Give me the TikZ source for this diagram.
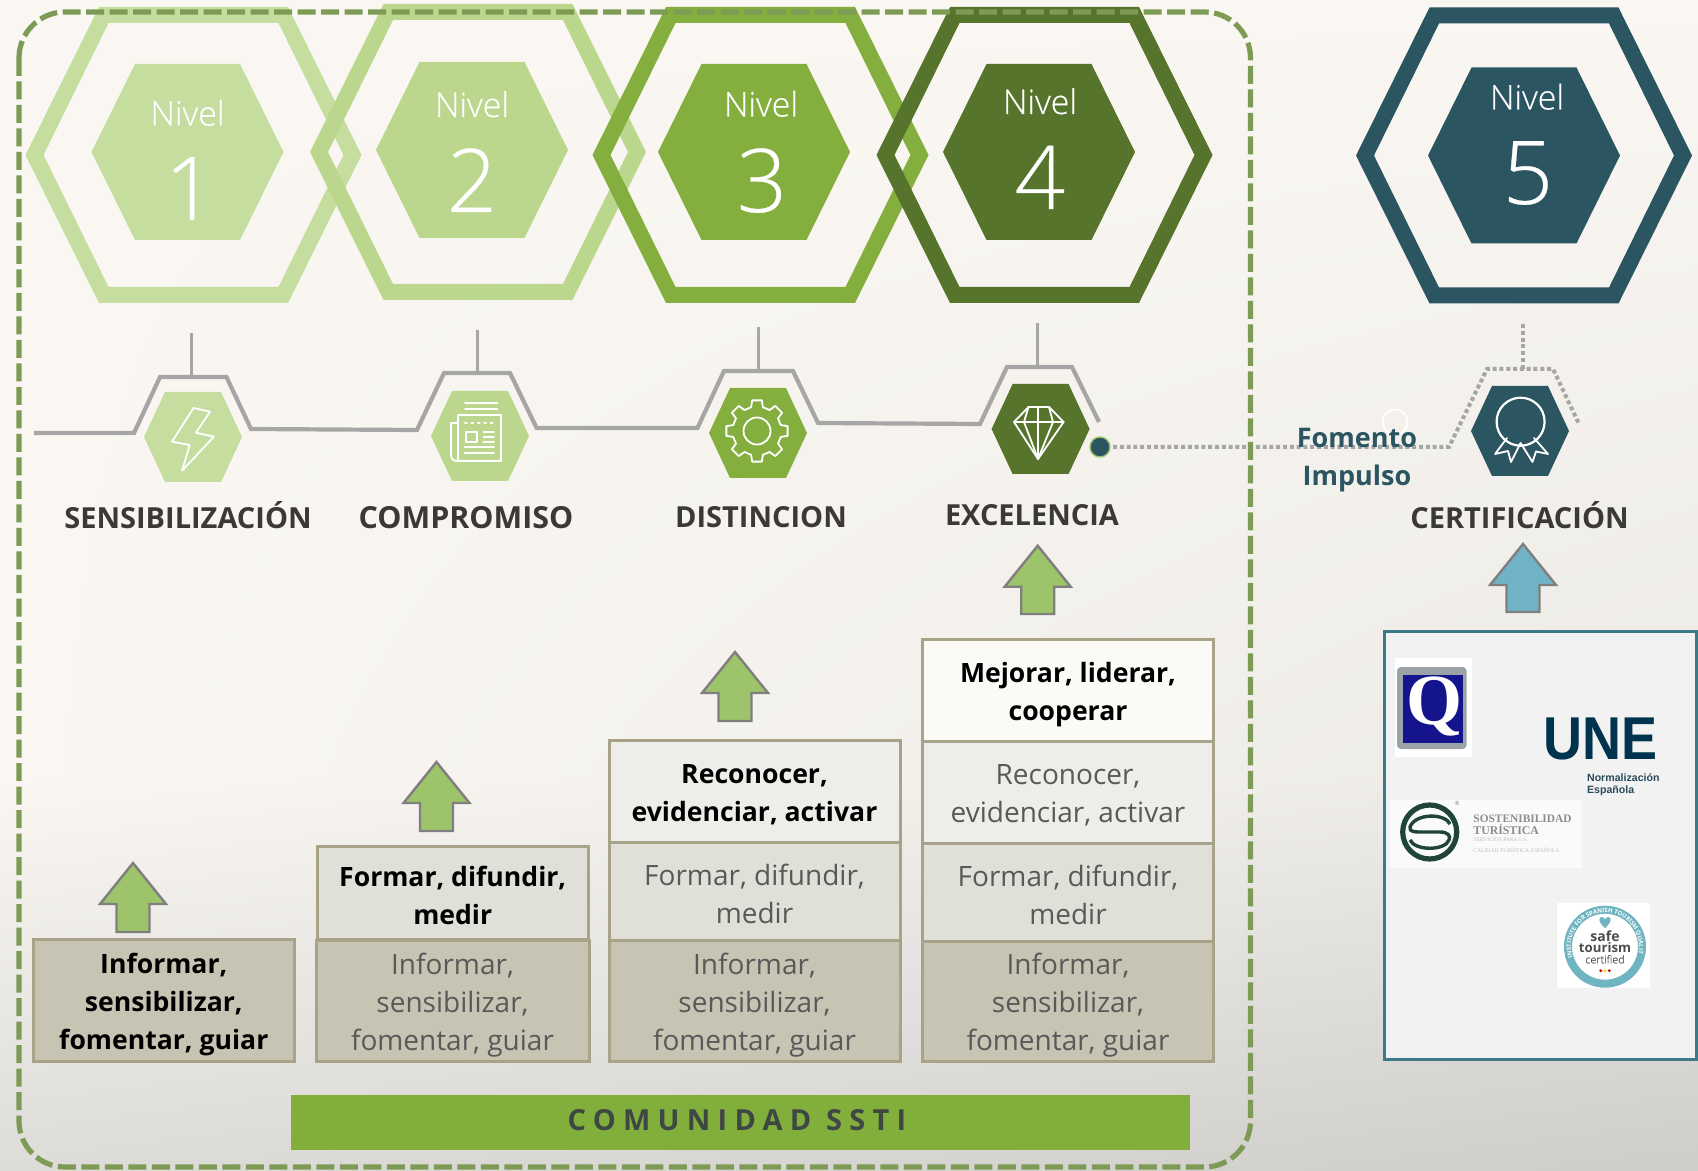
\documentclass[tikz,border=0pt]{standalone}
\usepackage{fontspec}
\usepackage{graphicx}
\usetikzlibrary{decorations.text,shadings}
\setmainfont{Open Sans}
\newfontfamily\lightf[FakeBold=0.35]{Open Sans Light}
\newfontfamily\barf[LetterSpace=25]{Open Sans}
\newfontfamily\arialf{Liberation Sans}
\newfontfamily\timesf{Liberation Serif}
\definecolor{bgA}{HTML}{FAF7F2}
\definecolor{bgM}{HTML}{ECEAE6}
\definecolor{bgB}{HTML}{DDDCD8}
\definecolor{bgC}{HTML}{CECDCA}
\definecolor{hA}{HTML}{C5DD9E}
\definecolor{hB}{HTML}{BBD68D}
\definecolor{hC}{HTML}{84AF3E}
\definecolor{hD}{HTML}{57742C}
\definecolor{hE}{HTML}{2A5561}
\definecolor{dashG}{HTML}{7D9B55}
\definecolor{lineG}{HTML}{A6A6A6}
\definecolor{labelC}{HTML}{3B3838}
\definecolor{lvA}{HTML}{C7C4B4}
\definecolor{lvB}{HTML}{E0DFD8}
\definecolor{lvC}{HTML}{EDEDE9}
\definecolor{lvD}{HTML}{FBFAF7}
\definecolor{bxB}{HTML}{A8A388}
\definecolor{txtG}{HTML}{595959}
\definecolor{barG}{HTML}{82AE3C}
\definecolor{barT}{HTML}{3F4744}
\definecolor{arG}{HTML}{9DC46A}
\definecolor{arB}{HTML}{71B3C6}
\definecolor{arL}{HTML}{7F7F7F}
\definecolor{certB}{HTML}{3C7A8A}
\definecolor{certF}{HTML}{F2F2F2}
\definecolor{qBlue}{HTML}{14148C}
\definecolor{qGrey}{HTML}{9CA3A6}
\definecolor{uneC}{HTML}{00334E}
\definecolor{uneT}{HTML}{2A4A5C}
\definecolor{sGreen}{HTML}{1F4438}
\definecolor{safeT}{HTML}{6FB5C1}
\definecolor{safeD}{HTML}{4D4D4D}
\newcommand{\tup}{\rule{0pt}{15pt}}
\newcommand{\tum}{\rule{0pt}{13.5pt}}
\tikzset{
  bx/.style={draw=bxB,line width=1.5pt,inner sep=0pt,align=center,text=txtG,font=\fontsize{14}{19}\selectfont},
  bxbold/.style={bx,text=black,font=\fontsize{13.3}{19}\selectfont\bfseries},
  lab/.style={inner sep=0pt,anchor=base,text=labelC,font=\fontsize{14.5}{16}\selectfont\bfseries},
  fom/.style={inner sep=0pt,anchor=base,text=hE,font=\fontsize{13.5}{15}\selectfont\bfseries},
  niv/.style={inner sep=0pt,anchor=base,text=white,font=\lightf\fontsize{17}{20}\selectfont},
  dig/.style={inner sep=0pt,anchor=base,text=white,font=\lightf\fontsize{44}{48}\selectfont},
  greyl/.style={draw=lineG,line width=2.1pt,line join=miter},
  stem/.style={draw=lineG,line width=1.5pt},
  dotl/.style={draw=lineG,line width=2pt,dash pattern=on 2pt off 1.4pt},
  icon/.style={draw=white,line width=0.9pt,line join=round,line cap=round},
}
\newcommand{\ringhex}[3]{%
  \fill[#3,even odd rule]
   ({#1-168},{#2}) -- ({#1-94.5},{#2-148}) -- ({#1+94.5},{#2-148}) -- ({#1+168},{#2}) -- ({#1+94.5},{#2+148}) -- ({#1-94.5},{#2+148}) -- cycle
   ({#1-150},{#2}) -- ({#1-85},{#2-132}) -- ({#1+85},{#2-132}) -- ({#1+150},{#2}) -- ({#1+85},{#2+132}) -- ({#1-85},{#2+132}) -- cycle;}
\newcommand{\solidhex}[3]{%
  \fill[#3] ({#1-96},{#2}) -- ({#1-52.5},{#2-88}) -- ({#1+52.5},{#2-88}) -- ({#1+96},{#2}) -- ({#1+52.5},{#2+88}) -- ({#1-52.5},{#2+88}) -- cycle;}
\newcommand{\smallhex}[3]{%
  \fill[#3] ({#1-49},{#2}) -- ({#1-28},{#2-45}) -- ({#1+28},{#2-45}) -- ({#1+49},{#2}) -- ({#1+28},{#2+45}) -- ({#1-28},{#2+45}) -- cycle;}
\newcommand{\uparr}[4]{%
  \filldraw[fill=#4,draw=arL,line width=1.2pt,line join=miter]
   ({#1},{#2}) -- ({#1+33},{#2+41}) -- ({#1+16.5},{#2+41}) -- ({#1+16.5},{#3}) -- ({#1-16.5},{#3}) -- ({#1-16.5},{#2+41}) -- ({#1-33},{#2+41}) -- cycle;}
\begin{document}
\begin{tikzpicture}[x=0.5pt,y=-0.5pt]
\useasboundingbox (0,0) rectangle (1698,1171);
% background
\shade[upper left=bgA,upper right=bgA,lower left=bgA,lower right=bgM] (0,0) rectangle (1698,780);
\shade[upper left=bgA,upper right=bgM,lower left=bgB,lower right=bgC] (0,780) rectangle (1698,1171);

% rings
\ringhex{193.5}{155}{hA}
\ringhex{478}{152}{hB}
\ringhex{760.5}{155}{hC}
\ringhex{1044.5}{155}{hD}
\ringhex{1524}{155.5}{hE}
\solidhex{187.5}{152}{hA}
\solidhex{472}{150}{hB}
\solidhex{754}{152}{hC}
\solidhex{1039}{152}{hD}
\solidhex{1524}{155.5}{hE}

% nivel texts
\node[niv] (n1) at (187.5,125.5) {Nivel};
\node[dig] (d1) at (190,220) {1};
\node[niv] (n2) at (472,117) {Nivel};
\node[dig] (d2) at (472,212) {2};
\node[niv] (n3) at (761,116.5) {Nivel};
\node[dig] (d3) at (762,212) {3};
\node[niv] (n4) at (1040,114) {Nivel};
\node[dig] (d4) at (1040,209) {4};
\node[niv] (n5) at (1527,109.5) {Nivel};
\node[dig] (d5) at (1528,204) {5};

% grey line
\draw[greyl] (34,433) -- (134,433) -- (160,377) -- (226.5,377) -- (251,429) -- (417,430) -- (444,373) -- (510,373) -- (536.6,428) -- (697.5,428) -- (724,371) -- (793,371) -- (818,423) -- (980,424) -- (1007,367) -- (1072,367) -- (1099,422);
\coordinate (sa1) at (191,333); \coordinate (sb1) at (191,377);
\coordinate (sa2) at (477.5,330); \coordinate (sb2) at (477.5,373);
\coordinate (sa3) at (758,327); \coordinate (sb3) at (758,371);
\coordinate (sa4) at (1037.7,323); \coordinate (sb4) at (1037.7,367);
\coordinate (sa5) at (1523,324); \coordinate (sb5) at (1523,369);
\draw[stem] (sa1) -- (sb1);
\draw[stem] (sa2) -- (sb2);
\draw[stem] (sa3) -- (sb3);
\draw[stem] (sa4) -- (sb4);

% dotted parts
\node[circle,fill=hE,draw=arG,line width=0.7pt,minimum size=10pt,inner sep=0pt,outer sep=1.5pt] (dot) at (1100,447) {};
\coordinate (p1) at (1449,447);
\coordinate (p2) at (1487,369);
\coordinate (p3) at (1553,369);
\coordinate (p4) at (1578.5,423);
\draw[dotl] (dot.east) -- (p1) -- (p2) -- (p3) -- (p4);
\draw[dotl] (sa5) -- (sb5);

% small hexes
\smallhex{193}{437}{hA}
\smallhex{480}{436}{hB}
\smallhex{758}{433}{hC}
\smallhex{1040.6}{429}{hD}
\smallhex{1520}{431}{hE}

% lightning
\draw[icon] (193.5,408) -- (210,411.7) -- (196,432.7) -- (214,436.7) -- (182,470.7) -- (189.7,445) -- (172,441.7) -- cycle;
% newspaper
\draw[icon] (465,403) -- (497.5,403) (465,409) -- (497.5,409);
\draw[icon] (458,461) -- (458,415) -- (501,415) -- (501,461) -- (458,461) .. controls (453,461) and (451,459) .. (451,455) -- (451,423) -- (458,423);
\draw[icon] (466,432) rectangle (477,442);
\draw[icon] (483.5,432) -- (494,432) (483.5,437) -- (494,437) (483.5,442) -- (494,442);
\draw[icon] (464.5,447) -- (494,447) (464.5,453) -- (494,453);
\draw[icon,dash pattern=on 1pt off 2.2pt] (465,423) -- (494,423);
% gear
\begin{scope}[shift={(757,431)}]
\draw[icon] (-9:31) foreach \a in {0,45,...,315} { -- (\a-9:31) -- (\a+9:31) -- (\a+14:24.5) -- (\a+31:24.5) } -- cycle;
\draw[icon] (0,0) circle[radius=13.5];
\end{scope}
% diamond
\draw[icon] (1028.5,407) -- (1049,407) -- (1063.6,422) -- (1038,459) -- (1014,422) -- cycle;
\draw[icon] (1014,422) -- (1063.6,422);
\draw[icon] (1028.5,407) -- (1024,422) -- (1038,459) -- (1053,422) -- (1049,407);
\draw[icon] (1038,407) -- (1038,459);
% award
\draw[icon,line width=1.1pt] (1520.6,421.7) circle[radius=24];
\draw[icon] (1507,438) -- (1495,454) -- (1508,451) -- (1511,462) -- (1520.6,443) -- (1532.5,462) -- (1536,451.5) -- (1548,454) -- (1534,438);

% white circle
\draw[white,line width=0.9pt] (1395,422) circle[radius=12.5];

% dashed frame
\draw[dashG,line width=2.6pt,rounded corners=23pt,dash pattern=on 9pt off 2.75pt] (19,12) rectangle (1250.5,1167);

% labels
\node[lab] (l1) at (188,528.5) {SENSIBILIZACIÓN};
\node[lab,font=\fontsize{15.2}{16}\selectfont\bfseries] (l2) at (466,529) {COMPROMISO};
\node[lab] (l3) at (761,527.5) {DISTINCION};
\node[lab] (l4) at (1032,525.5) {EXCELENCIA};
\node[lab] (l5) at (1519.5,529) {CERTIFICACIÓN};
\node[fom] (f1) at (1357,448) {Fomento};
\node[fom] (f2) at (1357,486) {Impulso};

% arrows
\uparr{133}{863}{932}{arG}
\uparr{436.5}{762}{831}{arG}
\uparr{735}{652}{721}{arG}
\uparr{1037.7}{545.7}{614}{arG}
\uparr{1523}{544}{612}{arB}

% boxes
\node[bxbold,fill=lvA,minimum width=130.8pt,minimum height=61pt] (a1) at (163.8,1000) {\tup Informar,\\sensibilizar,\\fomentar, guiar};
\node[bx,fill=lvA,minimum width=136.5pt,minimum height=60.5pt] (a2) at (452.5,1001) {\tup Informar,\\sensibilizar,\\fomentar, guiar};
\node[bxbold,fill=lvB,minimum width=135.3pt,minimum height=46.5pt] (b2) at (452.7,892.5) {\tum Formar, difundir,\\medir};
\node[bx,fill=lvA,minimum width=145.5pt,minimum height=60.5pt] (a3) at (754.5,1000.5) {\tup Informar,\\sensibilizar,\\fomentar, guiar};
\node[bx,fill=lvB,minimum width=145.5pt,minimum height=49pt] (b3) at (754.5,891) {\tum Formar, difundir,\\medir};
\node[bxbold,fill=lvC,minimum width=145.5pt,minimum height=51pt] (c3) at (754.5,791) {\tum Reconocer,\\evidenciar, activar};
\node[bx,fill=lvA,minimum width=145.5pt,minimum height=60.5pt] (a4) at (1068,1001) {\tup Informar,\\sensibilizar,\\fomentar, guiar};
\node[bx,fill=lvB,minimum width=145.5pt,minimum height=49pt] (b4) at (1068,892) {\tum Formar, difundir,\\medir};
\node[bx,fill=lvC,minimum width=145.5pt,minimum height=51pt] (c4) at (1068,792) {\tum Reconocer,\\evidenciar, activar};
\node[bxbold,fill=lvD,minimum width=145.5pt,minimum height=51pt] (e4) at (1068,690) {\tup Mejorar, liderar,\\cooperar};

% bar
\node[fill=barG,inner sep=0pt,minimum width=449.5pt,minimum height=27.5pt] (bar) at (740.5,1122.5) {};
\node[inner sep=0pt,text=barT,font=\barf\fontsize{14.5}{16}\selectfont\bfseries] (bart) at (737,1120.5) {COMUNIDAD SSTI};

% certification panel
\draw[fill=certF,draw=certB,line width=1.5pt] (1384.7,631.7) rectangle (1696,1059);
% Q logo
\fill[white] (1395,657.7) rectangle (1471.7,756.7);
\fill[qGrey,rounded corners=2pt] (1397,667) rectangle (1466.7,749);
\fill[qBlue] (1403,675) rectangle (1463,743);
\node[inner sep=0pt,text=white,font=\timesf\fontsize{36}{38}\selectfont\bfseries] (qlogo) at (1434,706) {Q};
% UNE logo
\node[inner sep=0pt,anchor=base,text=uneC,font=\arialf\fontsize{27}{28}\selectfont\bfseries] (une) at (1600.5,759) {\scalebox{1}[1.12]{UNE}};
\node[inner sep=0pt,anchor=base west,text=uneT,font=\arialf\fontsize{5.3}{6}\selectfont\bfseries] (une1) at (1586.7,781) {Normalización};
\node[inner sep=0pt,anchor=base west,text=uneT,font=\arialf\fontsize{5.3}{6}\selectfont\bfseries] (une2) at (1586.7,793) {Española};
% S logo
\fill[white!60!certF] (1390,800) rectangle (1581.7,867.7);
\draw[sGreen,line width=2.6pt] (1429.7,832) circle[radius=27];
\draw[sGreen,line width=1.7pt] (1450,824) .. controls (1445,813) and (1415,813) .. (1410,827) .. controls (1409,832) and (1415,832) .. (1420,832) -- (1440,832) .. controls (1448,832) and (1451,836) .. (1449,840) .. controls (1445,851) and (1415,851) .. (1410,840);
\node[inner sep=0pt,text=gray,font=\arialf\fontsize{3}{3}\selectfont] (sr) at (1457,803) {®};
\node[inner sep=0pt,anchor=base west,text=black!45,font=\timesf\fontsize{5.7}{6}\selectfont\bfseries] (s1) at (1473,822) {SOSTENIBILIDAD};
\node[inner sep=0pt,anchor=base west,text=black!45,font=\timesf\fontsize{5.9}{6}\selectfont\bfseries] (s2) at (1473,834) {TURÍSTICA};
\node[inner sep=0pt,anchor=base west,text=black!25,font=\timesf\fontsize{2.8}{3}\selectfont] (s3) at (1473,841.5) {SERVICIOS PARA LA};
\node[inner sep=0pt,anchor=base west,text=black!25,font=\timesf\fontsize{2.8}{3}\selectfont] (s4) at (1473,852) {CALIDAD TURÍSTICA ESPAÑOLA};
% safe tourism logo
\fill[white] (1556.7,903.3) rectangle (1650,988.3);
\draw[safeT,line width=4pt] (1605,946.7) circle[radius=37];
\path[postaction={decorate,decoration={text along path,text align=center,text={|\fontsize{3}{3}\selectfont\color{white}\bfseries|INSTITUTE FOR SPANISH TOURISM QUALITY}}}] (1571.5,952.6) arc[start angle=170,end angle=370,radius=34];
\fill[safeT] (1605,928) .. controls (1597,921) and (1599,917) .. (1602,917) .. controls (1604,917) and (1605,919) .. (1605,920) .. controls (1605,919) and (1606,917) .. (1608,917) .. controls (1611,917) and (1613,921) .. (1605,928) -- cycle;
\node[inner sep=0pt,text=safeD,font=\fontsize{7}{8}\selectfont\bfseries] (st1) at (1605,936) {safe};
\node[inner sep=0pt,text=safeD,font=\fontsize{6.6}{8}\selectfont\bfseries] (st2) at (1605,947.3) {tourism};
\node[inner sep=0pt,text=safeD,font=\lightf\fontsize{5.4}{6}\selectfont] (st3) at (1605,959.3) {certified};
\fill[red!80!black] (1600.7,970.7) circle[radius=1.6];
\fill[yellow!80!orange] (1605,970.7) circle[radius=1.6];
\fill[red!80!black] (1609.3,970.7) circle[radius=1.6];
\end{tikzpicture}
\end{document}
